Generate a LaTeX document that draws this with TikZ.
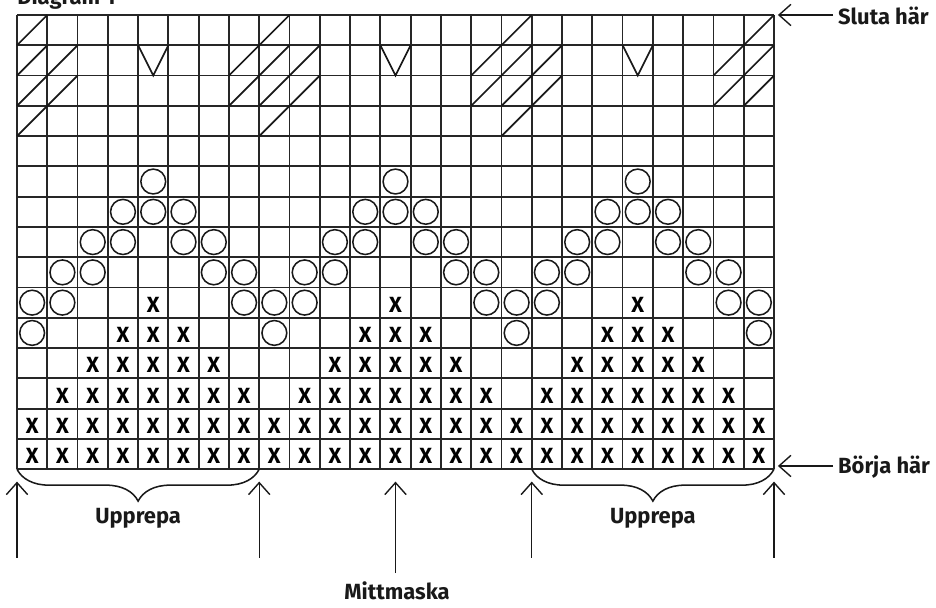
\documentclass[tikz,border=0pt]{standalone}
\usepackage{fontspec}
\setmainfont{Fira Sans}
\usetikzlibrary{arrows.meta, positioning, decorations.pathreplacing}

\begin{document}
\begin{tikzpicture}[
  x=0.8cm, y=0.8cm,
  grid line/.style={line width=1.35pt, black!85},
  stitch x/.style={font=\fontsize{16.5}{19}\selectfont\bfseries, inner sep=0pt, yshift=-1.5pt},
  stitch o/.style={line width=1.15pt, black!90},
  stitch mark/.style={line width=1.3pt, black!90, line join=miter},
  label text/.style={font=\fontsize{16.5}{19}\selectfont\bfseries, inner sep=0pt, black!90},
  pointer/.style={-{Straight Barb[length=9pt, width=16pt]}, line width=1.05pt, black!90},
  repeat brace/.style={decorate, decoration={brace, mirror, amplitude=24pt}, line width=1.15pt, black!90}
]
  \useasboundingbox (-0.561,-4.551) rectangle (30.35,15.495);

  % chart grid, 25 stitches x 15 rows
  \foreach \c in {0,...,25} {
    \draw[grid line] (\c,0) -- (\c,15);
  }
  \foreach \r in {0,...,15} {
    \draw[grid line] (0,\r) -- (25,\r);
  }

  % knit stitches (x), row/columns
  \foreach \r/\cols in {
    1/{1,2,3,4,5,6,7,8,9,10,11,12,13,14,15,16,17,18,19,20,21,22,23,24,25},
    2/{1,2,3,4,5,6,7,8,9,10,11,12,13,14,15,16,17,18,19,20,21,22,23,24,25},
    3/{2,3,4,5,6,7,8,10,11,12,13,14,15,16,18,19,20,21,22,23,24},
    4/{3,4,5,6,7,11,12,13,14,15,19,20,21,22,23},
    5/{4,5,6,12,13,14,20,21,22},
    6/{5,13,21}} {
    \foreach \c in \cols {
      \node[stitch x] (x-\r-\c) at (\c-0.5,\r-0.5) {X};
    }
  }

  % purl stitches (o)
  \foreach \r/\cols in {
    5/{1,9,17,25},
    6/{1,2,8,9,10,16,17,18,24,25},
    7/{2,3,7,8,10,11,15,16,18,19,23,24},
    8/{3,4,6,7,11,12,14,15,19,20,22,23},
    9/{4,5,6,12,13,14,20,21,22},
    10/{5,13,21}} {
    \foreach \c in \cols {
      \draw[stitch o] (\c-0.5,\r-0.5) circle (0.41);
    }
  }

  % decreases (/)
  \foreach \r/\cols in {
    12/{1,9,17},
    13/{1,2,8,9,10,16,17,18,24,25},
    14/{1,2,8,9,10,16,17,18,24,25},
    15/{1,9,17,25}} {
    \foreach \c in \cols {
      \draw[stitch mark] (\c-1,\r-1) -- (\c,\r);
    }
  }

  % slipped stitches (V)
  \foreach \c in {5,13,21} {
    \draw[stitch mark] (\c-1,14) -- (\c-0.5,13) -- (\c,14);
  }

  % title, cut at the top edge
  \node[label text, anchor=base west] (title) at (0,15.36) {Diagram 1};

  % start and end markers
  \coordinate (end top) at (25.13,15);
  \coordinate (start bottom) at (25.13,0.106);
  \node[label text, anchor=base west] (sluta) at (27.11,14.67) {Sluta här};
  \node[label text, anchor=base west] (borja) at (27.11,-0.126) {Börja här};
  \draw[pointer] ([xshift=-3.5pt]sluta.west |- end top) -- (end top);
  \draw[pointer] ([xshift=-3.5pt]borja.west |- start bottom) -- (start bottom);

  % repeats
  \draw[repeat brace] (0,0) -- (8,0);
  \draw[repeat brace] (17,0) -- (25,0);
  \node[label text, anchor=base] (rep left) at (4,-1.78) {Upprepa};
  \node[label text, anchor=base] (rep right) at (21,-1.78) {Upprepa};

  \foreach \n/\x in {l1/0, l2/8, r1/17, r2/25} {
    \coordinate (\n tip) at (\x,-0.41);
    \coordinate (\n end) at (\x,-2.93);
    \draw[pointer] (\n end) -- (\n tip);
  }

  % centre stitch
  \node[label text, anchor=base] (mitt) at (12.55,-4.29) {Mittmaska};
  \coordinate (mitt tip) at (12.5,-0.41);
  \coordinate (mitt end) at (12.5,-3.43);
  \draw[pointer] (mitt end) -- (mitt tip);
\end{tikzpicture}
\end{document}
